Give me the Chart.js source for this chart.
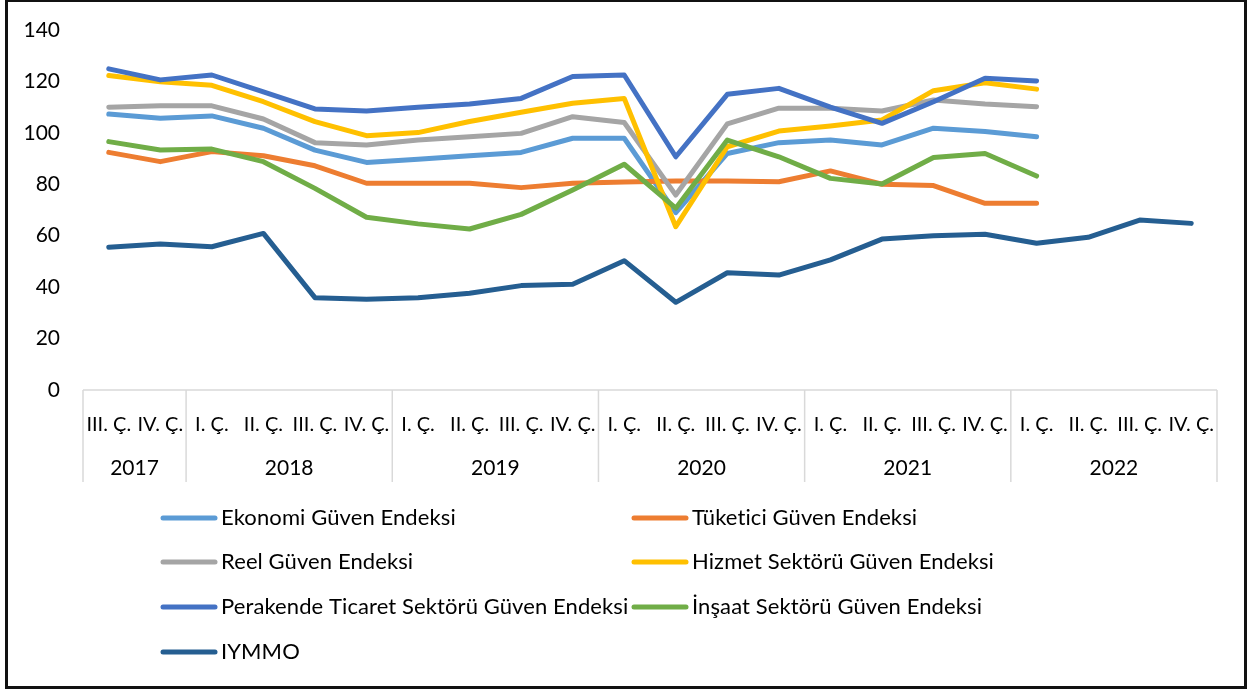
<!DOCTYPE html>
<html>
<head>
<meta charset="utf-8">
<script src="https://cdn.jsdelivr.net/npm/chart.js@4.4.0/dist/chart.umd.min.js"></script>
<style>
  html, body { margin: 0; padding: 0; background: #fff; }
  #wrap { position: relative; width: 1247px; height: 693px; }
  canvas { display: block; }
</style>
</head>
<body>
<div id="wrap"><canvas id="c" width="1247" height="693"></canvas></div>
<script>
// ---- Data ----
const years = ['2017', '2018', '2019', '2020', '2021', '2022'];
const quarterLabels = [
  'III. Ç.', 'IV. Ç.',
  'I. Ç.', 'II. Ç.', 'III. Ç.', 'IV. Ç.',
  'I. Ç.', 'II. Ç.', 'III. Ç.', 'IV. Ç.',
  'I. Ç.', 'II. Ç.', 'III. Ç.', 'IV. Ç.',
  'I. Ç.', 'II. Ç.', 'III. Ç.', 'IV. Ç.',
  'I. Ç.', 'II. Ç.', 'III. Ç.', 'IV. Ç.'
];
const quarterYears = [
  '2017', '2017',
  '2018', '2018', '2018', '2018',
  '2019', '2019', '2019', '2019',
  '2020', '2020', '2020', '2020',
  '2021', '2021', '2021', '2021',
  '2022', '2022', '2022', '2022'
];
const seriesNames = [
  'Ekonomi Güven Endeksi',
  'Tüketici Güven Endeksi',
  'Reel Güven Endeksi',
  'Hizmet Sektörü Güven Endeksi',
  'Perakende Ticaret Sektörü Güven Endeksi',
  'İnşaat Sektörü Güven Endeksi',
  'IYMMO'
];
const ekonomi   = [107.3, 105.7, 106.6, 101.8, 93.3, 88.5, 89.7, 91.1, 92.4, 97.9, 97.9, 69.0, 92.0, 96.2, 97.2, 95.3, 101.8, 100.5, 98.5, null, null, null];
const tuketici  = [92.4, 88.8, 92.7, 91.1, 87.2, 80.4, 80.4, 80.4, 78.7, 80.4, 80.9, 81.3, 81.3, 81.0, 85.2, 80.0, 79.5, 72.6, 72.6, null, null, null];
const reel      = [110.0, 110.5, 110.5, 105.4, 96.2, 95.3, 97.2, 98.5, 99.8, 106.3, 104.0, 75.8, 103.5, 109.6, 109.6, 108.5, 112.8, 111.2, 110.2, null, null, null];
const hizmet    = [122.3, 119.9, 118.5, 112.1, 104.4, 98.9, 100.1, 104.4, 108.0, 111.5, 113.4, 63.5, 94.6, 100.7, 102.7, 105.0, 116.4, 119.5, 117.0, null, null, null];
const perakende = [124.9, 120.6, 122.5, 115.9, 109.3, 108.5, 110.0, 111.2, 113.4, 121.9, 122.5, 90.7, 115.0, 117.3, 110.0, 103.7, 112.1, 121.2, 120.2, null, null, null];
const insaat    = [96.6, 93.3, 93.7, 88.8, 78.4, 67.2, 64.6, 62.6, 68.3, 77.8, 87.8, 70.7, 97.2, 90.7, 82.3, 80.1, 90.4, 92.0, 83.2, null, null, null];
const iymmo     = [55.5, 56.8, 55.7, 60.9, 35.9, 35.3, 35.9, 37.6, 40.6, 41.1, 50.3, 34.1, 45.6, 44.7, 50.6, 58.7, 60.0, 60.6, 57.1, 59.4, 66.1, 64.8];
const yTicks = [0, 20, 40, 60, 80, 100, 120, 140];

const colors = ['#5B9BD5', '#ED7D31', '#A5A5A5', '#FFC000', '#4472C4', '#70AD47', '#255E91'];
const seriesData = [ekonomi, tuketici, reel, hizmet, perakende, insaat, iymmo];

const FONT = 'Lato, "Open Sans", sans-serif';

const datasets = seriesData.map((d, i) => ({
  label: seriesNames[i],
  data: d,
  borderColor: colors[i],
  backgroundColor: colors[i],
  borderWidth: 5,
  borderCapStyle: 'round',
  borderJoinStyle: 'round',
  pointRadius: 0,
  pointHoverRadius: 0,
  tension: 0,
  fill: false,
  spanGaps: false,
  order: seriesData.length - i
}));

const axisPlugin = {
  id: 'groupedAxis',
  afterDraw(chart) {
    const ctx = chart.ctx;
    const x = chart.scales.x;
    const area = chart.chartArea;
    const yBase = area.bottom;
    const n = quarterLabels.length;
    const half = (x.getPixelForValue(1) - x.getPixelForValue(0)) / 2;
    const leftEdge = x.getPixelForValue(0) - half;
    const rightEdge = x.getPixelForValue(n - 1) + half;
    ctx.save();
    ctx.strokeStyle = '#D9D9D9';
    ctx.lineWidth = 1.5;
    ctx.beginPath();
    ctx.moveTo(leftEdge, yBase);
    ctx.lineTo(rightEdge, yBase);
    ctx.stroke();
    const sepBottom = yBase + 92;
    const drawSep = (px) => {
      ctx.beginPath();
      ctx.moveTo(px, yBase);
      ctx.lineTo(px, sepBottom);
      ctx.stroke();
    };
    drawSep(leftEdge);
    let start = 0;
    ctx.fillStyle = '#000';
    ctx.textBaseline = 'middle';
    ctx.textAlign = 'center';
    for (let i = 0; i < n; i++) {
      ctx.font = '20px ' + FONT;
      ctx.fillText(quarterLabels[i], x.getPixelForValue(i), yBase + 35);
      if (i === n - 1 || quarterYears[i + 1] !== quarterYears[i]) {
        const l = x.getPixelForValue(start) - half;
        const r = x.getPixelForValue(i) + half;
        drawSep(r);
        ctx.font = '21px ' + FONT;
        ctx.fillText(quarterYears[i], (l + r) / 2, yBase + 78);
        start = i + 1;
      }
    }
    ctx.restore();
  }
};

const legendPlugin = {
  id: 'customLegend',
  afterDraw(chart) {
    const ctx = chart.ctx;
    const cols = [161, 632];
    const rows = [518, 562, 607, 652];
    ctx.save();
    ctx.font = '22px ' + FONT;
    try { ctx.textRendering = 'optimizeSpeed'; } catch (e) {}
    try { ctx.letterSpacing = '0.1px'; } catch (e) {}
    ctx.textBaseline = 'middle';
    ctx.textAlign = 'left';
    chart.data.datasets.forEach((ds, i) => {
      const cx = cols[i % 2];
      const cy = rows[Math.floor(i / 2)];
      ctx.strokeStyle = ds.borderColor;
      ctx.lineWidth = 5;
      ctx.lineCap = 'round';
      ctx.beginPath();
      ctx.moveTo(cx + 2, cy);
      ctx.lineTo(cx + 54, cy);
      ctx.stroke();
      ctx.fillStyle = '#000';
      ctx.fillText(ds.label, cx + 60, cy);
    });
    ctx.fillStyle = '#111';
    ctx.fillRect(5, 0, 1242, 2);
    ctx.fillRect(5, 0, 3, 689);
    ctx.fillRect(1244, 0, 3, 689);
    ctx.fillRect(5, 686, 1242, 3);
    ctx.restore();
  }
};

new Chart(document.getElementById('c'), {
  type: 'line',
  data: { labels: quarterLabels, datasets },
  options: {
    responsive: false,
    animation: false,
    events: [],
    layout: { padding: { left: 0, right: 30, top: 30, bottom: 303 } },
    plugins: { legend: { display: false }, tooltip: { enabled: false } },
    scales: {
      x: {
        display: false,
        type: 'category',
        offset: true
      },
      y: {
        min: 0,
        max: 140,
        border: { display: false },
        grid: { display: false, drawTicks: true, tickLength: 8 },
        afterFit(scale) { scale.width = 83; },
        afterBuildTicks(scale) { scale.ticks = yTicks.map(v => ({ value: v })); },
        ticks: {
          padding: 15,
          color: '#000',
          font: { family: FONT, size: 21 }
        }
      }
    }
  },
  plugins: [axisPlugin, legendPlugin]
});
</script>
</body>
</html>
